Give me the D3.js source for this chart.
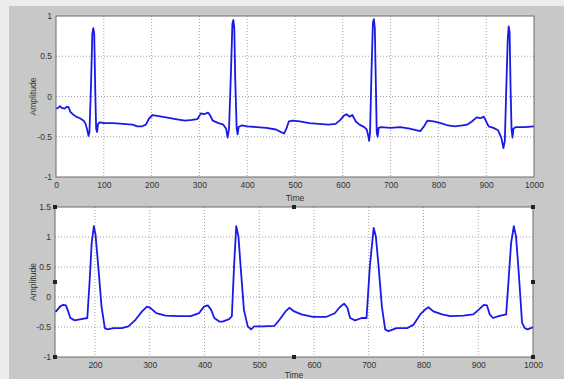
<!DOCTYPE html>
<html>
<head>
<meta charset="utf-8">
<script src="https://cdn.jsdelivr.net/npm/d3@7"></script>
<style>
  html, body { margin: 0; padding: 0; background: #ececec; }
  svg { display: block; }
  .tick text { font-family: "Liberation Sans", Arial, sans-serif; font-size: 8.5px; fill: #333; }
  .label { font-family: "Liberation Sans", Arial, sans-serif; font-size: 8.5px; fill: #333; }
</style>
</head>
<body>
<div id="chart"></div>
<script>
// upper trace (raw ecg)
const rawTime = [0, 5, 8, 12, 18, 22, 26, 30, 35, 42, 50, 58, 62, 66, 68, 70, 73, 76, 78, 80, 82, 84, 86, 88, 92,
  100, 120, 140, 160, 170, 180, 188, 195, 202, 212, 230, 250, 270, 285, 296, 303, 310, 318, 322, 328, 340, 350,
  356, 359, 362, 366, 369, 371, 373, 375, 378, 380, 382, 388, 400, 420, 440, 460, 470, 477, 482, 487, 495, 510,
  530, 550, 570, 585, 595, 602, 608, 614, 620, 627, 635, 645, 650, 653, 655, 657, 660, 663, 665, 667, 669, 671,
  673, 675, 680, 700, 720, 740, 755, 762, 770, 777, 790, 805, 820, 835, 850, 860, 870, 880, 888, 895, 900, 905,
  915, 925, 932, 936, 939, 942, 945, 947, 949, 951, 953, 955, 957, 962, 980, 1000];
const rawAmp = [-0.15, -0.14, -0.12, -0.14, -0.15, -0.13, -0.13, -0.19, -0.22, -0.25, -0.27, -0.30, -0.34, -0.43,
  -0.49, -0.44, 0.1, 0.78, 0.85, 0.78, 0.1, -0.40, -0.44, -0.34, -0.32,
  -0.33, -0.33, -0.34, -0.35, -0.37, -0.37, -0.35, -0.27, -0.23, -0.24, -0.26, -0.28, -0.30, -0.29, -0.28, -0.21,
  -0.22, -0.20, -0.23, -0.30, -0.33, -0.35,
  -0.40, -0.51, -0.40, 0.3, 0.90, 0.95, 0.85, 0.2, -0.40, -0.47, -0.38, -0.36, -0.37, -0.38, -0.39, -0.41, -0.44,
  -0.46, -0.40, -0.31, -0.30, -0.31,
  -0.33, -0.34, -0.35, -0.34, -0.29, -0.24, -0.22, -0.25, -0.23, -0.31, -0.35, -0.38, -0.41, -0.48, -0.55, -0.45,
  0.3, 0.92, 0.96, 0.85, 0.2, -0.45,
  -0.50, -0.39, -0.38, -0.39, -0.38, -0.40, -0.42, -0.43, -0.37, -0.30, -0.31, -0.33, -0.36, -0.37, -0.36, -0.35,
  -0.31, -0.26, -0.27, -0.25, -0.31, -0.37,
  -0.39, -0.42, -0.52, -0.64, -0.55, 0.1, 0.70, 0.87, 0.80, 0.1, -0.40, -0.51, -0.40, -0.38, -0.38, -0.37];

// lower trace (filtered)
const filtTime = [127, 129, 136, 142, 147, 151, 155, 163, 175, 186, 190, 194, 198, 201, 206, 212, 218, 223, 234,
  249, 261, 274, 286, 295, 301, 312, 329, 350, 375, 390, 399, 406, 412, 418, 427, 433, 445, 450, 454, 458, 462,
  466, 472, 479, 485, 491, 506, 528, 537, 548, 555, 564, 577, 598, 623, 638, 647, 655, 661, 666, 675, 687, 696,
  702, 709, 713, 718, 724, 730, 736, 751, 770, 782, 794, 803, 809, 818, 834, 849, 873, 891, 901, 910, 916, 921,
  927, 937, 951, 955, 960, 965, 969, 974, 980, 985, 990, 996, 1000];
const filtAmp = [-0.24, -0.24, -0.16, -0.13, -0.14, -0.24, -0.35, -0.39, -0.37, -0.35, 0.23, 0.9, 1.18, 1.04,
  0.51, -0.16, -0.52, -0.54, -0.52,
  -0.52, -0.49, -0.38, -0.24, -0.16, -0.18, -0.27, -0.31, -0.32, -0.32, -0.27, -0.16, -0.14, -0.21, -0.35, -0.41,
  -0.41, -0.37, -0.32, 0.51, 1.18, 1.01,
  0.51, -0.21, -0.49, -0.54, -0.49, -0.49, -0.48, -0.38, -0.24, -0.18, -0.24, -0.29, -0.33, -0.33, -0.27, -0.17,
  -0.11, -0.18, -0.35, -0.39, -0.35, -0.35,
  0.51, 1.15, 1.01, 0.51, -0.16, -0.54, -0.57, -0.52, -0.52, -0.46, -0.29, -0.21, -0.17, -0.24, -0.29, -0.32,
  -0.31, -0.29, -0.21, -0.13, -0.14, -0.29,
  -0.35, -0.32, -0.29, 0.23, 0.9, 1.18, 1.01, 0.4, -0.43, -0.52, -0.54, -0.52, -0.5];

const topXTicks = [0, 100, 200, 300, 400, 500, 600, 700, 800, 900, 1000];
const topYTicks = [-1, -0.5, 0, 0.5, 1];
const bottomXTicks = [200, 300, 400, 500, 600, 700, 800, 900, 1000];
const bottomYTicks = [-1, -0.5, 0, 0.5, 1, 1.5];

const width = 564;
const height = 379;

const svg = d3.select('#chart')
  .append('svg')
  .attr('width', width)
  .attr('height', height);

// figure background
svg.append('rect')
  .attr('x', 9).attr('y', 6)
  .attr('width', width - 9).attr('height', height - 6)
  .attr('fill', '#c8c8c8');

function drawPanel(opt) {
  const x = d3.scaleLinear().domain(opt.xDomain).range([opt.left, opt.right]);
  const y = d3.scaleLinear().domain(opt.yDomain).range([opt.bottom, opt.top]);

  const g = svg.append('g');

  g.append('rect')
    .attr('x', opt.left).attr('y', opt.top)
    .attr('width', opt.right - opt.left).attr('height', opt.bottom - opt.top)
    .attr('fill', '#fff');

  // grid
  g.selectAll('.vgrid')
    .data(opt.xTicks.filter(d => x(d) > opt.left + 1 && x(d) < opt.right - 1))
    .enter().append('line')
    .attr('x1', d => x(d)).attr('x2', d => x(d))
    .attr('y1', opt.top).attr('y2', opt.bottom)
    .attr('stroke', '#8a8a8a').attr('stroke-width', 0.8)
    .attr('stroke-dasharray', '1,2');

  g.selectAll('.hgrid')
    .data(opt.yTicks.filter(d => y(d) > opt.top + 1 && y(d) < opt.bottom - 1))
    .enter().append('line')
    .attr('x1', opt.left).attr('x2', opt.right)
    .attr('y1', d => y(d)).attr('y2', d => y(d))
    .attr('stroke', '#8a8a8a').attr('stroke-width', 0.8)
    .attr('stroke-dasharray', '1,2');

  const pts = opt.time.map((t, i) => [t, opt.amp[i]]);
  g.append('path')
    .datum(pts)
    .attr('fill', 'none')
    .attr('stroke', '#1a1ae6')
    .attr('stroke-width', 1.8)
    .attr('stroke-linejoin', 'round')
    .attr('d', d3.line().x(d => x(d[0])).y(d => y(d[1])));

  // axes
  g.append('g')
    .attr('transform', `translate(0,${opt.bottom})`)
    .call(d3.axisBottom(x).tickValues(opt.xTicks).tickSize(0).tickPadding(5).tickFormat(d3.format('d')))
    .call(a => a.select('.domain').remove());

  g.append('g')
    .attr('transform', `translate(${opt.left},0)`)
    .call(d3.axisLeft(y).tickValues(opt.yTicks).tickSize(0).tickPadding(4).tickFormat(d => String(d)))
    .call(a => a.select('.domain').remove());

  g.append('rect')
    .attr('x', opt.left).attr('y', opt.top)
    .attr('width', opt.right - opt.left).attr('height', opt.bottom - opt.top)
    .attr('fill', 'none')
    .attr('stroke', '#6a6a6a').attr('stroke-width', 1);

  g.append('text')
    .attr('class', 'label')
    .attr('x', (opt.left + opt.right) / 2)
    .attr('y', opt.bottom + opt.timeGap)
    .attr('text-anchor', 'middle')
    .text('Time');

  g.append('text')
    .attr('class', 'label')
    .attr('transform', `translate(36,${(opt.top + opt.bottom) / 2}) rotate(-90)`)
    .attr('text-anchor', 'middle')
    .text('Amplitude');

  return { x, y };
}

drawPanel({
  left: 56, right: 534, top: 16, bottom: 177,
  xDomain: [0, 1000], yDomain: [-1, 1],
  xTicks: topXTicks, yTicks: topYTicks,
  time: rawTime, amp: rawAmp, timeGap: 24
});

const lower = {
  left: 55, right: 533, top: 207, bottom: 357,
  xDomain: [127, 1000], yDomain: [-1, 1.5],
  xTicks: bottomXTicks, yTicks: bottomYTicks,
  time: filtTime, amp: filtAmp, timeGap: 21
};
drawPanel(lower);

// selection handles on the lower axes
const midX = (lower.left + lower.right) / 2;
const midY = (lower.top + lower.bottom) / 2;
const handles = [
  [lower.left, lower.top], [midX, lower.top], [lower.right, lower.top],
  [lower.left, midY], [lower.right, midY],
  [lower.left, lower.bottom], [midX, lower.bottom], [lower.right, lower.bottom]
];
svg.selectAll('.handle')
  .data(handles)
  .enter().append('rect')
  .attr('x', d => d[0] - 2).attr('y', d => d[1] - 2)
  .attr('width', 4).attr('height', 4)
  .attr('fill', '#222');
</script>
</body>
</html>
